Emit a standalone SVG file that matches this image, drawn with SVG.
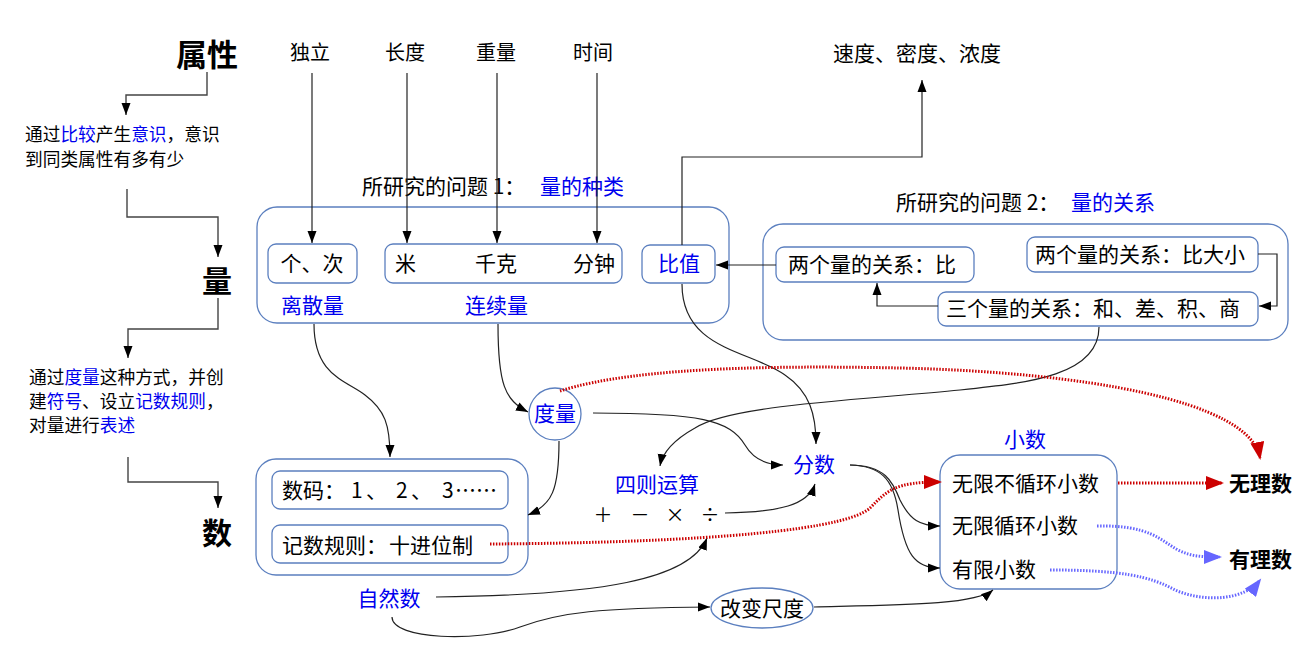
<svg xmlns="http://www.w3.org/2000/svg" width="1315" height="655" viewBox="0 0 1315 655">
<style>
text{font-family:"Noto Sans CJK SC","Noto Sans",sans-serif;font-size:21px;fill:#000}
.bl{fill:#0000ee}
.bd{font-weight:700}
.sm{font-size:17.7px}
.op{font-size:19px}
.box{fill:#fff;stroke:#5b7fbf;stroke-width:1.3}
.c{fill:none;stroke:#222;stroke-width:1.2}
.g{fill:none;stroke:#444;stroke-width:1.4}
.r{fill:none;stroke:#cc0000;stroke-width:3;stroke-dasharray:1.5 1.5}
.u{fill:none;stroke:#6666ff;stroke-width:3;stroke-dasharray:1.5 1.5}
</style>
<defs>
<marker id="a" markerUnits="userSpaceOnUse" markerWidth="13" markerHeight="10" refX="12" refY="5" orient="auto"><path d="M0,0.5 L12,5 L0,9.5z" fill="#000"/></marker>
<marker id="ar" markerUnits="userSpaceOnUse" markerWidth="19" markerHeight="14" refX="16" refY="7" orient="auto"><path d="M0,0 L18,7 L0,14z" fill="#cc0000"/></marker>
<marker id="au" markerUnits="userSpaceOnUse" markerWidth="19" markerHeight="14" refX="16" refY="7" orient="auto"><path d="M0,0 L18,7 L0,14z" fill="#6666ff"/></marker>
</defs>
<rect width="1315" height="655" fill="#fff"/>

<!-- containers -->
<g id="group-kinds">
<rect class="box" x="257" y="207" width="472" height="116" rx="20"/>
<text x="362" y="194">所研究的问题 1：<tspan class="bl" x="540">量的种类</tspan></text>
<text class="bl" x="281" y="313">离散量</text>
<text class="bl" x="465" y="313">连续量</text>
</g>
<g id="group-relations">
<rect class="box" x="763" y="224" width="525" height="116" rx="20"/>
<text x="896" y="210">所研究的问题 2：<tspan class="bl" x="1071">量的关系</tspan></text>
</g>
<g id="group-number">
<rect class="box" x="256" y="459" width="272" height="116" rx="20"/>
</g>
<g id="group-decimal">
<rect class="box" x="940" y="455" width="177" height="134" rx="20"/>
<text class="bl" x="1025" y="447" text-anchor="middle">小数</text>
</g>

<g id="attr"><text class="bd" x="207" y="66" style="font-size:31px" text-anchor="middle">属性</text></g>
<g id="liang"><text class="bd" x="217" y="292" style="font-size:30px" text-anchor="middle">量</text></g>
<g id="shu"><text class="bd" x="217" y="544" style="font-size:30px" text-anchor="middle">数</text></g>
<g id="note1">
<text class="sm" x="25" y="141">通过<tspan class="bl">比较</tspan>产生<tspan class="bl">意识</tspan>，意识</text>
<text class="sm" x="25" y="166">到同类属性有多有少</text>
</g>
<g id="note2">
<text class="sm" x="29" y="384">通过<tspan class="bl">度量</tspan>这种方式，并创</text>
<text class="sm" x="29" y="408">建<tspan class="bl">符号</tspan>、设立<tspan class="bl">记数规则</tspan>，</text>
<text class="sm" x="29" y="432">对量进行<tspan class="bl">表述</tspan></text>
</g>
<g id="duli"><text x="310" y="60" style="font-size:20px" text-anchor="middle">独立</text></g>
<g id="changdu"><text x="405" y="60" style="font-size:20px" text-anchor="middle">长度</text></g>
<g id="zhongliang"><text x="496" y="60" style="font-size:20px" text-anchor="middle">重量</text></g>
<g id="shijian"><text x="593" y="60" style="font-size:20px" text-anchor="middle">时间</text></g>
<g id="sudu"><text x="833" y="61">速度、密度、浓度</text></g>

<g id="gece"><rect class="box" x="268" y="244" width="89" height="39" rx="8"/><text x="312" y="271" text-anchor="middle">个、次</text></g>
<g id="units"><rect class="box" x="385" y="244" width="237" height="39" rx="8"/><text x="395" y="271">米</text><text x="475" y="271">千克</text><text x="573" y="271">分钟</text></g>
<g id="bizhi"><rect class="box" x="642" y="245" width="73" height="38" rx="8"/><text class="bl" x="679" y="271" text-anchor="middle">比值</text></g>

<g id="rel-bi"><rect class="box" x="776" y="247" width="198" height="35" rx="8"/><text x="788" y="272">两个量的关系：比</text></g>
<g id="rel-dx"><rect class="box" x="1027" y="237" width="231" height="35" rx="8"/><text x="1035" y="262">两个量的关系：比大小</text></g>
<g id="rel-3"><rect class="box" x="938" y="292" width="320" height="34" rx="8"/><text x="946" y="316">三个量的关系：和、差、积、商</text></g>

<g id="duliang"><circle class="box" cx="555" cy="414" r="26"/><text class="bl" x="555" y="421" text-anchor="middle">度量</text></g>
<g id="fenshu"><text class="bl" x="814" y="472" text-anchor="middle">分数</text></g>
<g id="sizeyunsuan"><text class="bl" x="657" y="492" text-anchor="middle">四则运算</text>
<text class="op" x="603" y="522" text-anchor="middle">＋</text><text class="op" x="640" y="522" text-anchor="middle">－</text><text class="op" x="675" y="522" text-anchor="middle">×</text><text class="op" x="710" y="522" text-anchor="middle">÷</text></g>

<g id="shuma"><rect class="box" x="272" y="471" width="236" height="38" rx="8"/><text x="282" y="498">数码：<tspan x="351">1</tspan><tspan x="366">、</tspan><tspan x="396">2</tspan><tspan x="411">、</tspan><tspan x="442">3</tspan><tspan x="455">……</tspan></text></g>
<g id="jishu"><rect class="box" x="272" y="525" width="236" height="38" rx="8"/><text x="282" y="553">记数规则：<tspan x="389">十进位制</tspan></text></g>
<g id="ziranshu"><text class="bl" x="389" y="606" text-anchor="middle">自然数</text></g>
<g id="chidu"><ellipse class="box" cx="762" cy="608" rx="51" ry="20"/><text x="762" y="616" text-anchor="middle">改变尺度</text></g>

<g id="wxbxh"><text x="952" y="491">无限不循环小数</text></g>
<g id="wxxh"><text x="952" y="533">无限循环小数</text></g>
<g id="yxxs"><text x="952" y="577">有限小数</text></g>
<g id="wulishu"><text class="bd" x="1229" y="491">无理数</text></g>
<g id="youlishu"><text class="bd" x="1229" y="567">有理数</text></g>

<g id="connectors">
<path class="g" d="M207,72 V95 H126 V115" marker-end="url(#a)"/>
<path class="g" d="M127,189 V217 H218 V257" marker-end="url(#a)"/>
<path class="g" d="M218,298 V329 H128 V358" marker-end="url(#a)"/>
<path class="g" d="M128,457 V482 H218 V508" marker-end="url(#a)"/>
<path class="c" d="M312,73 V243" marker-end="url(#a)"/>
<path class="c" d="M407,73 V243" marker-end="url(#a)"/>
<path class="c" d="M497,73 V243" marker-end="url(#a)"/>
<path class="c" d="M597,73 V243" marker-end="url(#a)"/>
<path class="c" d="M682,245 V157 H922 V80" marker-end="url(#a)"/>
<path class="c" d="M776,265 H716" marker-end="url(#a)"/>
<path class="c" d="M1258,254 H1277 V306 H1259" marker-end="url(#a)"/>
<path class="c" d="M938,306 H877 V283" marker-end="url(#a)"/>
<path class="c" d="M682,284 C682,350 750,350 785,375 C810,392 816,415 816,444" marker-end="url(#a)"/>
<path class="c" d="M1099,327 C1099,375 1030,383 960,390 C860,400 730,405 695,428 C670,442 662,455 660,466" marker-end="url(#a)"/>
<path class="c" d="M314,324 C314,375 345,380 365,395 C385,410 390,425 390,457" marker-end="url(#a)"/>
<path class="c" d="M498,324 C498,385 505,400 528,412" marker-end="url(#a)"/>
<path class="c" d="M559,441 C559,490 552,505 528,515" marker-end="url(#a)"/>
<path class="c" d="M593,413 C700,413 730,420 745,445 C755,462 770,465 783,465" marker-end="url(#a)"/>
<path class="c" d="M725,513 C780,512 808,505 815,484" marker-end="url(#a)"/>
<path class="c" d="M850,465 C885,465 893,482 900,500 C910,520 920,526 940,526" marker-end="url(#a)"/>
<path class="c" d="M850,465 C880,466 893,478 898,510 C905,555 915,568 940,568" marker-end="url(#a)"/>
<path class="c" d="M436,597 C600,595 690,580 707,538" marker-end="url(#a)"/>
<path class="c" d="M392,617 C392,640 480,642 520,627 C560,612 600,608 710,607" marker-end="url(#a)"/>
<path class="c" d="M814,607 C900,605 975,605 993,590" marker-end="url(#a)"/>
<path class="r" d="M560,391 C640,365 800,366 900,368 C1080,372 1250,400 1260,458" marker-end="url(#ar)"/>
<path class="r" d="M490,544 C650,543 840,535 870,508 C888,490 895,482 940,482" marker-end="url(#ar)"/>
<path class="r" d="M1118,483 H1222" marker-end="url(#ar)"/>
<path class="u" d="M1097,526 C1150,525 1160,540 1178,550 C1192,557 1205,557 1220,557" marker-end="url(#au)"/>
<path class="u" d="M1050,570 C1120,570 1150,576 1175,590 C1205,603 1245,600 1260,580" marker-end="url(#au)"/>
</g>
</svg>
